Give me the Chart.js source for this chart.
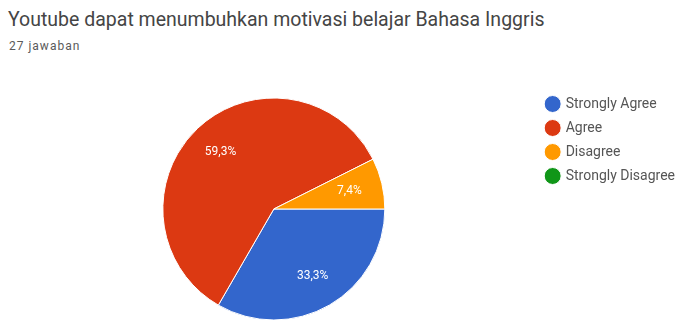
<!DOCTYPE html>
<html>
<head>
<meta charset="utf-8">
<script src="https://cdn.jsdelivr.net/npm/chart.js@4/dist/chart.umd.min.js"></script>
<style>
  html, body { margin: 0; padding: 0; background: #fff; overflow: hidden; width: 683px; height: 322px; }
  #title { position: absolute; left: 8px; top: 8px; font: 19.5px Roboto, sans-serif; color: #454545; line-height: 24px; white-space: nowrap; }
  #subtitle { position: absolute; left: 9px; top: 38px; font: 12px Roboto, sans-serif; letter-spacing: 1px; color: #5a5a5a; line-height: 16px; }
  #chart { position: absolute; left: 0; top: 0; }
</style>
</head>
<body>
<div id="title">Youtube dapat menumbuhkan motivasi belajar Bahasa Inggris</div>
<div id="subtitle">27 jawaban</div>
<canvas id="chart" width="700" height="340"></canvas>
<script>
const categories = ['Strongly Agree', 'Agree', 'Disagree', 'Strongly Disagree'];
const responses = [9, 16, 2, 0];
const sliceColors = ['#3366cc', '#dc3912', '#ff9900', '#109618'];

// white percentage text inside each slice
const sliceLabels = {
  id: 'sliceLabels',
  afterDatasetsDraw(chart) {
    const ctx = chart.ctx;
    const data = chart.data.datasets[0].data;
    const total = data.reduce((a, b) => a + b, 0);
    const arcs = chart.getDatasetMeta(0).data;
    ctx.save();
    ctx.font = '12px Roboto, sans-serif';
    ctx.fillStyle = '#ffffff';
    ctx.textAlign = 'center';
    ctx.textBaseline = 'middle';
    arcs.forEach((arc, i) => {
      if (!data[i]) return;
      const mid = (arc.startAngle + arc.endAngle) / 2;
      const r = arc.outerRadius * 0.7;
      const text = (data[i] / total * 100).toFixed(1).replace('.', ',') + '%';
      ctx.fillText(text, arc.x + Math.cos(mid) * r, arc.y + Math.sin(mid) * r);
    });
    ctx.restore();
  }
};

new Chart(document.getElementById('chart'), {
  type: 'pie',
  data: {
    labels: categories,
    datasets: [{
      data: responses,
      backgroundColor: sliceColors,
      borderColor: '#ffffff',
      borderWidth: 1,
      radius: 111
    }]
  },
  options: {
    responsive: false,
    animation: false,
    rotation: 90,
    layout: { padding: { left: 11, right: 15, top: 87, bottom: 9 } },
    events: [],
    plugins: {
      tooltip: { enabled: false },
      legend: {
        position: 'right',
        align: 'start',
        labels: {
          usePointStyle: true,
          pointStyle: 'circle',
          boxWidth: 12,
          boxHeight: 12,
          padding: 10,
          color: '#555',
          font: { family: 'Roboto', size: 14 }
        }
      }
    }
  },
  plugins: [sliceLabels]
});
</script>
</body>
</html>
